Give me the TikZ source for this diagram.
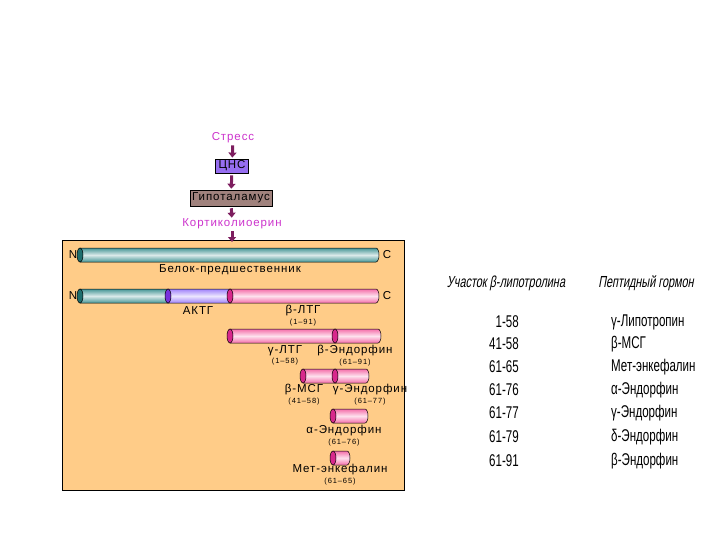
\documentclass[tikz,border=0pt]{standalone}
\usepackage{fontspec}
\setmainfont{Liberation Sans}
\newfontfamily\narrowfont[FakeStretch=0.68]{Liberation Sans}
\newfontfamily\narrowslant[FakeStretch=0.68,FakeSlant=0.18]{Liberation Sans}
\newfontfamily\widefont[LetterSpace=8]{Liberation Sans}
\newfontfamily\rangefont[LetterSpace=12]{Liberation Sans}
\usetikzlibrary{arrows.meta, positioning}
\definecolor{panelcol}{RGB}{255,204,136}
\definecolor{stresscol}{RGB}{204,51,204}
\definecolor{arrowcol}{RGB}{125,30,95}
\definecolor{cnscol}{RGB}{150,110,240}
\definecolor{hypocol}{RGB}{160,130,125}
\definecolor{tealcol}{RGB}{70,150,150}
\definecolor{tealcap}{RGB}{30,110,110}
\definecolor{purpcol}{RGB}{160,130,250}
\definecolor{purpcap}{RGB}{120,50,220}
\definecolor{pinkcol}{RGB}{245,110,170}
\definecolor{pinkcap}{RGB}{215,40,140}

% one segment of a protein chain: x1, x2, y, body colour, cap colour
\newcommand{\chainseg}[5]{%
  \shade[top color=#4, bottom color=#4, middle color=#4!20!white, draw=black, line width=0.5pt]
    (#1,#3-7) -- (#2,#3-7) arc[start angle=-90, end angle=90, x radius=3, y radius=7]
    -- (#1,#3+7) -- cycle;
  \draw[fill=#5, line width=0.5pt] (#1,#3) ellipse[x radius=3, y radius=7];
}

\begin{document}
\begin{tikzpicture}[
    x=1pt, y=-1pt,
    >={Triangle[length=5pt, width=8pt]},
    flow/.style={->, arrowcol, line width=3pt, shorten <=2pt, shorten >=1pt},
    tag/.style={font=\widefont\fontsize{11.5}{13}\selectfont, inner sep=0pt},
    flowbox/.style={draw, line width=0.5pt, minimum height=14pt, inner sep=2pt, font=\widefont\fontsize{11.5}{13}\selectfont},
    lbl/.style={font=\widefont\fontsize{11.5}{13}\selectfont, inner sep=0pt},
    rng/.style={font=\rangefont\fontsize{7.5}{8}\selectfont, inner sep=0pt},
    end/.style={font=\fontsize{11.5}{13}\selectfont, inner sep=0pt},
    head/.style={font=\narrowslant\fontsize{16}{18}\selectfont, inner sep=0pt},
    cell/.style={font=\narrowfont\fontsize{17}{19}\selectfont, inner sep=0pt},
]
    \useasboundingbox (0,0) rectangle (720,540);

    % panel
    \draw[fill=panelcol, line width=0.6pt] (62,240) rectangle (404,490);

    % regulation chain
    \node[tag, text=stresscol] (stress) at (233,138) {Стресс};
    \node[flowbox, fill=cnscol, minimum width=33pt] (cns) at (232,166) {ЦНС};
    \node[flowbox, fill=hypocol, minimum width=77pt, minimum height=16pt] (hypo) at (231,198) {Гипоталамус};
    \node[tag, text=stresscol] (crh) at (232,224) {Кортиколиоерин};
    \coordinate (entry) at (232,243);
    \draw[flow] (stress) -- (cns);
    \draw[flow] (cns) -- (hypo);
    \draw[flow] (hypo) -- (crh);
    \draw[flow] (crh) -- (entry);

    % precursor
    \chainseg{80}{376}{255}{tealcol}{tealcap}
    \node[end] (n1) at (73,255) {N};
    \node[end] (c1) at (387,255) {C};
    \node[lbl] (prec) at (230,270) {Белок-предшественник};

    % cleaved precursor
    \chainseg{80}{168}{296}{tealcol}{tealcap}
    \chainseg{168}{230}{296}{purpcol}{purpcap}
    \chainseg{230}{376}{296}{pinkcol}{pinkcap}
    \node[end] (n2) at (73,296) {N};
    \node[end] (c2) at (387,296) {C};
    \node[lbl] (actg) at (198,311) {АКТГ};
    \node[lbl] (bltg) at (303,311) {β-ЛТГ};
    \node[rng, below=2pt of bltg] {(1–91)};

    % beta-LPH fragments
    \chainseg{230}{335}{336}{pinkcol}{pinkcap}
    \chainseg{335}{378}{336}{pinkcol}{pinkcap}
    \node[lbl] (gltg) at (285,351) {γ-ЛТГ};
    \node[rng, below=2pt of gltg] {(1–58)};
    \node[lbl] (bend) at (355,351) {β-Эндорфин};
    \node[rng, below=2pt of bend] {(61–91)};

    \chainseg{303}{335}{376}{pinkcol}{pinkcap}
    \chainseg{335}{366}{376}{pinkcol}{pinkcap}
    \node[lbl] (bmsh) at (304,390) {β-МСГ};
    \node[rng, below=2pt of bmsh] {(41–58)};
    \node[lbl] (gend) at (370,390) {γ-Эндорфин};
    \node[rng, below=2pt of gend] {(61–77)};

    \chainseg{333}{365}{416}{pinkcol}{pinkcap}
    \node[lbl] (aend) at (344,431) {α-Эндорфин};
    \node[rng, below=2pt of aend] {(61–76)};

    \chainseg{333}{347}{458}{pinkcol}{pinkcap}
    \node[lbl] (menk) at (340,470) {Мет-энкефалин};
    \node[rng, below=2pt of menk] {(61–65)};

    % table
    \node[head] (h1) at (506,283) {Участок β-липотролина};
    \node[head] (h2) at (646,283) {Пептидный гормон};
    \foreach \y/\part/\hormone [count=\i] in {
        322/1-58/γ-Липотропин, 344/41-58/β-МСГ, 367/61-65/Мет-энкефалин,
        390/61-76/α-Эндорфин, 413/61-77/γ-Эндорфин, 437/61-79/δ-Эндорфин,
        461/61-91/β-Эндорфин} {
        \node[cell, anchor=east] (part\i) at (519,\y) {\part};
        \node[cell, anchor=west] (horm\i) at (611,\y) {\hormone};
    }
\end{tikzpicture}
\end{document}
